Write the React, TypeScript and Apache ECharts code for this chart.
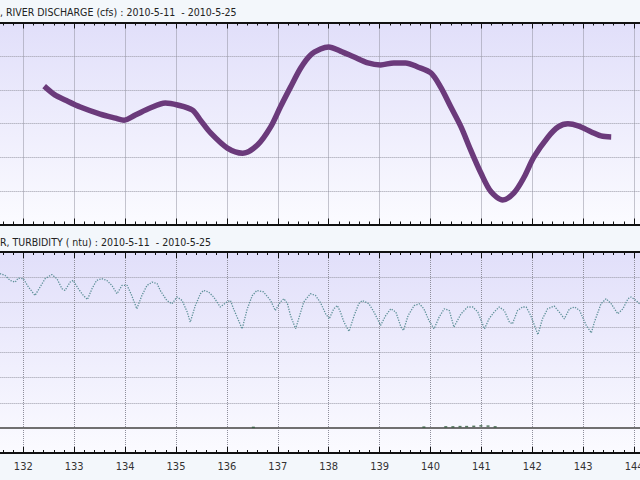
import React, { useEffect, useRef } from "react";
import * as echarts from "echarts";

// Day-of-year axis (2010-5-11 = 131 ... 2010-5-25 = 145)
const xMin = 131;
const xMax = 145;

const dischargeTitle = ", RIVER DISCHARGE (cfs) : 2010-5-11  - 2010-5-25";
const turbidityTitle = "R, TURBIDITY ( ntu) : 2010-5-11  - 2010-5-25";

const dischargeDays = [132.41,132.62,132.82,133.12,133.51,133.81,133.98,134.20,134.49,134.79,135.03,135.32,135.48,135.68,136.01,136.31,136.60,136.86,137.05,137.25,137.45,137.64,137.84,138.00,138.23,138.49,138.77,139.02,139.28,139.51,139.75,140.01,140.20,140.40,140.60,140.79,140.99,141.19,141.42,141.64,141.84,142.03,142.31,142.51,142.70,142.90,143.16,143.35,143.55];
const dischargeValues = [4110,3850,3700,3490,3280,3160,3100,3250,3460,3610,3550,3400,3100,2720,2270,2120,2360,2900,3490,4080,4650,5030,5210,5270,5150,4980,4800,4740,4800,4800,4680,4500,4080,3490,2900,2210,1530,970,730,940,1410,2000,2600,2900,2990,2930,2750,2630,2600];

const turbidityDays = [131.54,131.64,131.74,131.84,131.90,132.00,132.10,132.23,132.33,132.43,
132.56,132.66,132.76,132.82,132.92,132.98,133.08,133.18,133.26,133.35,
133.44,133.54,133.64,133.74,133.84,133.94,134.04,134.13,134.23,134.33,
134.43,134.53,134.63,134.69,134.82,134.92,135.02,135.12,135.22,135.28,
135.38,135.48,135.54,135.64,135.74,135.87,136.00,136.07,136.13,136.23,
136.30,136.40,136.50,136.59,136.72,136.86,136.95,137.05,137.12,137.19,
137.25,137.35,137.45,137.51,137.64,137.74,137.84,137.94,138.01,138.10,
138.17,138.23,138.30,138.40,138.50,138.59,138.66,138.79,138.89,139.02,
139.12,139.22,139.32,139.42,139.47,139.56,139.68,139.78,139.87,139.97,
140.07,140.17,140.27,140.37,140.46,140.60,140.73,140.83,140.93,141.06,
141.15,141.25,141.35,141.45,141.55,141.61,141.71,141.81,141.88,141.97,
142.11,142.20,142.30,142.43,142.53,142.63,142.73,142.83,142.93,143.06,
143.16,143.22,143.35,143.45,143.55,143.68,143.78,143.88,143.94,144.04,
144.14,144.24];
const turbidityValues = [61.4,60.7,58.7,58.0,59.6,59.4,56.1,52.7,56.1,59.4,
61.0,59.4,55.4,54.7,58.0,58.7,55.4,52.7,51.1,55.4,
58.7,59.4,58.7,56.7,53.4,56.7,56.7,52.7,47.4,52.7,
56.7,58.0,57.4,54.7,50.7,49.4,52.1,50.7,46.1,42.1,
48.7,53.4,54.7,54.1,52.1,48.1,50.1,50.7,47.4,42.7,
39.4,47.4,52.7,54.7,54.1,50.7,46.7,50.1,51.4,49.4,
44.7,39.4,46.1,50.1,53.4,52.7,49.8,45.4,43.4,47.4,
48.7,46.1,42.1,38.4,44.7,49.4,50.7,49.4,46.1,40.8,
44.7,47.4,46.1,40.1,38.8,44.7,48.7,49.4,47.4,42.7,
39.4,44.1,47.4,46.7,40.1,45.4,48.1,48.1,46.1,39.4,
43.4,46.1,48.1,46.7,42.1,41.4,46.7,48.1,48.1,44.7,
37.1,43.4,47.4,48.5,46.1,43.4,47.4,48.1,46.7,40.8,
37.8,42.1,49.4,51.4,49.4,45.4,47.4,51.4,52.1,50.7,
48.7,47.4];

const lowDays = [136.52,139.87,140.30,140.44,140.58,140.71,140.85,140.99,141.13,141.27];
const lowValues = [0.2,0.3,0.4,0.4,0.5,0.5,0.6,0.8,0.7,0.4];

const FONT = "'Liberation Sans Narrow', 'DejaVu Sans Condensed', 'Liberation Sans', sans-serif";

const pairs = (xs: number[], ys: number[]) => xs.map((x, i) => [x, ys[i]]);

export default function App() {
  const ref = useRef<HTMLDivElement>(null);
  useEffect(() => {
    if (!ref.current) return;
    const chart = echarts.init(ref.current, null, { renderer: "svg" });
    const pxPerDay = 50.9;
    const gridLeft = 23.3 - (132 - xMin) * pxPerDay;
    const gridWidth = (xMax - xMin) * pxPerDay;
    const bg = () =>
      new echarts.graphic.LinearGradient(0, 0, 0, 1, [
        { offset: 0, color: "#e1dffa" },
        { offset: 1, color: "#fbfbff" },
      ]);
    const xAxis = (gridIndex: number, position: "top" | "bottom", showLabel: boolean) => ({
      type: "value",
      gridIndex,
      position,
      min: xMin,
      max: xMax,
      interval: 1,
      axisLine: { show: true, onZero: false, lineStyle: { color: "#111", width: 2 } },
      axisTick: { show: true, inside: true, length: 6, lineStyle: { color: "#111", width: 1 } },
      minorTick: { show: true, splitNumber: 5, length: 3, lineStyle: { color: "#111", width: 1 } },
      axisLabel: { show: showLabel, showMinLabel: false, showMaxLabel: false, color: "#333", fontSize: 11, margin: 8, fontFamily: FONT },
      splitLine: { show: position === "bottom", lineStyle: { color: "#8f8f9c", type: "dotted", width: 1 } },
    });
    const yAxis = (gridIndex: number, min: number, max: number, interval: number) => ({
      type: "value",
      gridIndex,
      min,
      max,
      interval,
      axisLine: { show: false },
      axisTick: { show: false },
      axisLabel: { show: false },
      splitLine: { show: true, lineStyle: { color: "#9a9aa6", type: "dotted", width: 1 } },
    });
    chart.setOption({
      animation: false,
      backgroundColor: "#f3f7fb",
      grid: [
        { left: gridLeft, top: 22.5, width: gridWidth, height: 202, show: true, backgroundColor: bg(), borderWidth: 0, containLabel: false, outerBoundsMode: "none" },
        { left: gridLeft, top: 252, width: gridWidth, height: 201, show: true, backgroundColor: bg(), borderWidth: 0, containLabel: false, outerBoundsMode: "none" },
      ],
      xAxis: [xAxis(0, "bottom", false), xAxis(0, "top", false), xAxis(1, "bottom", true), xAxis(1, "top", false)],
      yAxis: [yAxis(0, 0, 6000, 1000), yAxis(1, -10, 70, 10)],
      graphic: [
        { type: "text", left: 0, top: 6, style: { text: dischargeTitle, fontSize: 10.5, fill: "#222", fontFamily: FONT } },
        { type: "text", left: 0, top: 236, style: { text: turbidityTitle, fontSize: 10.5, fill: "#222", fontFamily: FONT } },
      ],
      series: [
        {
          name: "River discharge",
          type: "line",
          xAxisIndex: 0,
          yAxisIndex: 0,
          data: pairs(dischargeDays, dischargeValues),
          smooth: 0.3,
          showSymbol: false,
          lineStyle: { color: "#6b3a7b", width: 5.5 },
          z: 5,
        },
        {
          name: "Turbidity",
          type: "line",
          xAxisIndex: 2,
          yAxisIndex: 1,
          data: pairs(turbidityDays, turbidityValues),
          showSymbol: false,
          lineStyle: { color: "#5f9199", width: 1.3, type: "dotted" },
          markLine: {
            silent: true,
            symbol: "none",
            label: { show: false },
            lineStyle: { color: "#707070", width: 2, type: "solid" },
            data: [{ yAxis: 0 }],
          },
          z: 5,
        },
        {
          name: "Turbidity low",
          type: "scatter",
          xAxisIndex: 2,
          yAxisIndex: 1,
          data: pairs(lowDays, lowValues),
          symbol: "rect",
          symbolSize: [3, 1.5],
          itemStyle: { color: "#2e5a3a" },
          z: 6,
        },
      ],
    });
    return () => chart.dispose();
  }, []);
  return (
    <div style={{ position: "fixed", left: 0, top: 0, width: 640, height: 480 }}>
      <div ref={ref} style={{ width: 640, height: 480 }} />
    </div>
  );
}
